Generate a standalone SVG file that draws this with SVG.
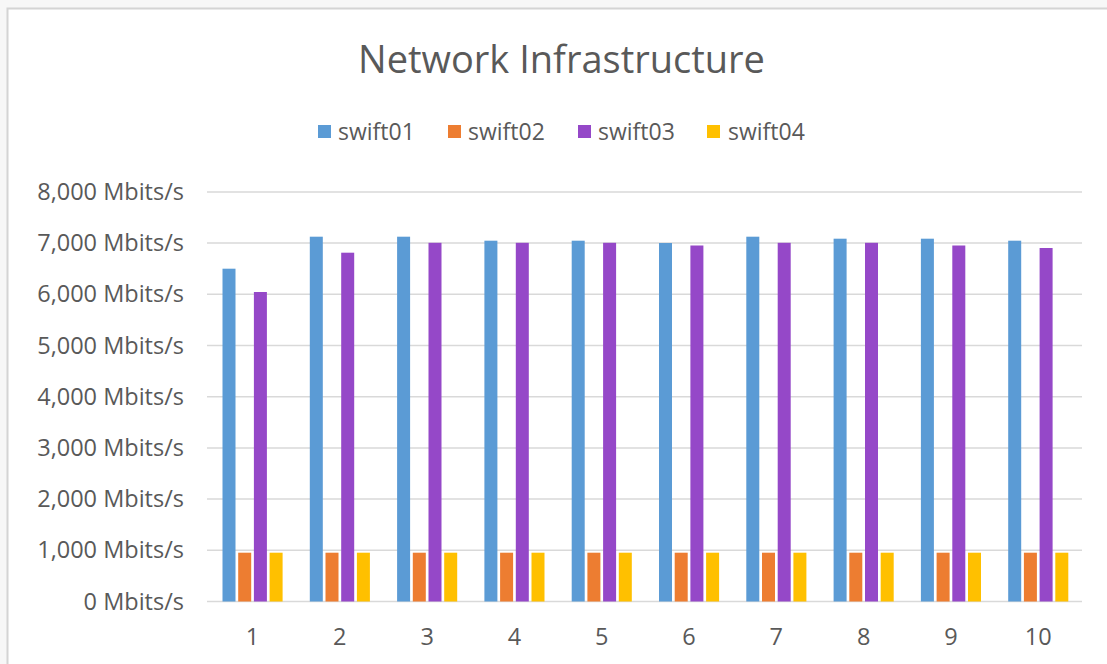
<svg xmlns="http://www.w3.org/2000/svg" width="1107" height="664" viewBox="0 0 1107 664">
  <style>
    .txt { font-family: "Open Sans", "Noto Sans", "Liberation Sans", sans-serif; fill: #595959; }
    .title { font-size: 38px; text-anchor: middle; }
    .ylab { font-size: 23.5px; text-anchor: end; }
    .xlab { font-size: 23.5px; text-anchor: middle; }
    .leg { font-size: 23px; }
    .grid { stroke: #D9D9D9; stroke-width: 1.5; }
    .s1 { fill: #5B9BD5; }
    .s2 { fill: #ED7D31; }
    .s3 { fill: #9548C8; }
    .s4 { fill: #FFC000; }
  </style>

  <!-- page and chart frame -->
  <rect x="0" y="0" width="1107" height="664" fill="#F7F7F7"/>
  <rect x="7.5" y="8.5" width="1120" height="680" fill="#FFFFFF" stroke="#D4D4D4" stroke-width="2"/>

  <!-- title -->
  <text id="title" class="txt title" x="561.5" y="73">Network Infrastructure</text>

  <!-- legend -->
  <g id="legend">
    <rect class="s1" x="318" y="125" width="13" height="13"/>
    <text class="txt leg" x="338" y="140">swift01</text>
    <rect class="s2" x="448" y="125" width="13" height="13"/>
    <text class="txt leg" x="468" y="140">swift02</text>
    <rect class="s3" x="578" y="125" width="13" height="13"/>
    <text class="txt leg" x="598" y="140">swift03</text>
    <rect class="s4" x="707" y="125" width="13" height="13"/>
    <text class="txt leg" x="728" y="140">swift04</text>
  </g>

  <!-- value axis: gridlines and labels -->
  <g id="gridlines">
    <line class="grid" x1="207" y1="191.9" x2="1082" y2="191.9"/>
    <line class="grid" x1="207" y1="243.1" x2="1082" y2="243.1"/>
    <line class="grid" x1="207" y1="294.3" x2="1082" y2="294.3"/>
    <line class="grid" x1="207" y1="345.5" x2="1082" y2="345.5"/>
    <line class="grid" x1="207" y1="396.7" x2="1082" y2="396.7"/>
    <line class="grid" x1="207" y1="447.9" x2="1082" y2="447.9"/>
    <line class="grid" x1="207" y1="499.1" x2="1082" y2="499.1"/>
    <line class="grid" x1="207" y1="550.3" x2="1082" y2="550.3"/>
    <line class="grid" x1="207" y1="601.5" x2="1082" y2="601.5"/>
  </g>
  <g id="y-axis">
    <text class="txt ylab" x="184" y="200">8,000 Mbits/s</text>
    <text class="txt ylab" x="184" y="251">7,000 Mbits/s</text>
    <text class="txt ylab" x="184" y="302">6,000 Mbits/s</text>
    <text class="txt ylab" x="184" y="353.5">5,000 Mbits/s</text>
    <text class="txt ylab" x="184" y="404.5">4,000 Mbits/s</text>
    <text class="txt ylab" x="184" y="456">3,000 Mbits/s</text>
    <text class="txt ylab" x="184" y="507">2,000 Mbits/s</text>
    <text class="txt ylab" x="184" y="558">1,000 Mbits/s</text>
    <text class="txt ylab" x="184" y="609.5">0 Mbits/s</text>
  </g>

  <!-- category labels -->
  <g id="x-axis">
    <text class="txt xlab" x="252.5" y="645">1</text>
    <text class="txt xlab" x="339.8" y="645">2</text>
    <text class="txt xlab" x="427.1" y="645">3</text>
    <text class="txt xlab" x="514.4" y="645">4</text>
    <text class="txt xlab" x="601.7" y="645">5</text>
    <text class="txt xlab" x="689" y="645">6</text>
    <text class="txt xlab" x="776.3" y="645">7</text>
    <text class="txt xlab" x="863.6" y="645">8</text>
    <text class="txt xlab" x="950.9" y="645">9</text>
    <text class="txt xlab" x="1038.2" y="645">10</text>
  </g>

  <!-- series: swift01 -->
  <g id="swift01">
    <rect class="s1" x="222.5" y="268.7" width="13" height="332.8"/>
    <rect class="s1" x="309.8" y="236.7" width="13" height="364.8"/>
    <rect class="s1" x="397.1" y="236.7" width="13" height="364.8"/>
    <rect class="s1" x="484.4" y="240.7" width="13" height="360.8"/>
    <rect class="s1" x="571.7" y="240.7" width="13" height="360.8"/>
    <rect class="s1" x="659" y="243" width="13" height="358.5"/>
    <rect class="s1" x="746.3" y="236.7" width="13" height="364.8"/>
    <rect class="s1" x="833.6" y="238.7" width="13" height="362.8"/>
    <rect class="s1" x="920.9" y="238.7" width="13" height="362.8"/>
    <rect class="s1" x="1008.2" y="240.7" width="13" height="360.8"/>
  </g>

  <!-- series: swift02 -->
  <g id="swift02">
    <rect class="s2" x="238.2" y="552.7" width="13" height="48.8"/>
    <rect class="s2" x="325.5" y="552.7" width="13" height="48.8"/>
    <rect class="s2" x="412.8" y="552.7" width="13" height="48.8"/>
    <rect class="s2" x="500.1" y="552.7" width="13" height="48.8"/>
    <rect class="s2" x="587.4" y="552.7" width="13" height="48.8"/>
    <rect class="s2" x="674.7" y="552.7" width="13" height="48.8"/>
    <rect class="s2" x="762" y="552.7" width="13" height="48.8"/>
    <rect class="s2" x="849.3" y="552.7" width="13" height="48.8"/>
    <rect class="s2" x="936.6" y="552.7" width="13" height="48.8"/>
    <rect class="s2" x="1023.9" y="552.7" width="13" height="48.8"/>
  </g>

  <!-- series: swift03 -->
  <g id="swift03">
    <rect class="s3" x="253.9" y="292" width="13" height="309.5"/>
    <rect class="s3" x="341.2" y="252.7" width="13" height="348.8"/>
    <rect class="s3" x="428.5" y="242.8" width="13" height="358.7"/>
    <rect class="s3" x="515.8" y="242.8" width="13" height="358.7"/>
    <rect class="s3" x="603.1" y="242.8" width="13" height="358.7"/>
    <rect class="s3" x="690.4" y="245.5" width="13" height="356"/>
    <rect class="s3" x="777.7" y="242.8" width="13" height="358.7"/>
    <rect class="s3" x="865" y="242.8" width="13" height="358.7"/>
    <rect class="s3" x="952.3" y="245.5" width="13" height="356"/>
    <rect class="s3" x="1039.6" y="248" width="13" height="353.5"/>
  </g>

  <!-- series: swift04 -->
  <g id="swift04">
    <rect class="s4" x="269.6" y="552.7" width="13" height="48.8"/>
    <rect class="s4" x="356.9" y="552.7" width="13" height="48.8"/>
    <rect class="s4" x="444.2" y="552.7" width="13" height="48.8"/>
    <rect class="s4" x="531.5" y="552.7" width="13" height="48.8"/>
    <rect class="s4" x="618.8" y="552.7" width="13" height="48.8"/>
    <rect class="s4" x="706.1" y="552.7" width="13" height="48.8"/>
    <rect class="s4" x="793.4" y="552.7" width="13" height="48.8"/>
    <rect class="s4" x="880.7" y="552.7" width="13" height="48.8"/>
    <rect class="s4" x="968" y="552.7" width="13" height="48.8"/>
    <rect class="s4" x="1055.3" y="552.7" width="13" height="48.8"/>
  </g>
</svg>
